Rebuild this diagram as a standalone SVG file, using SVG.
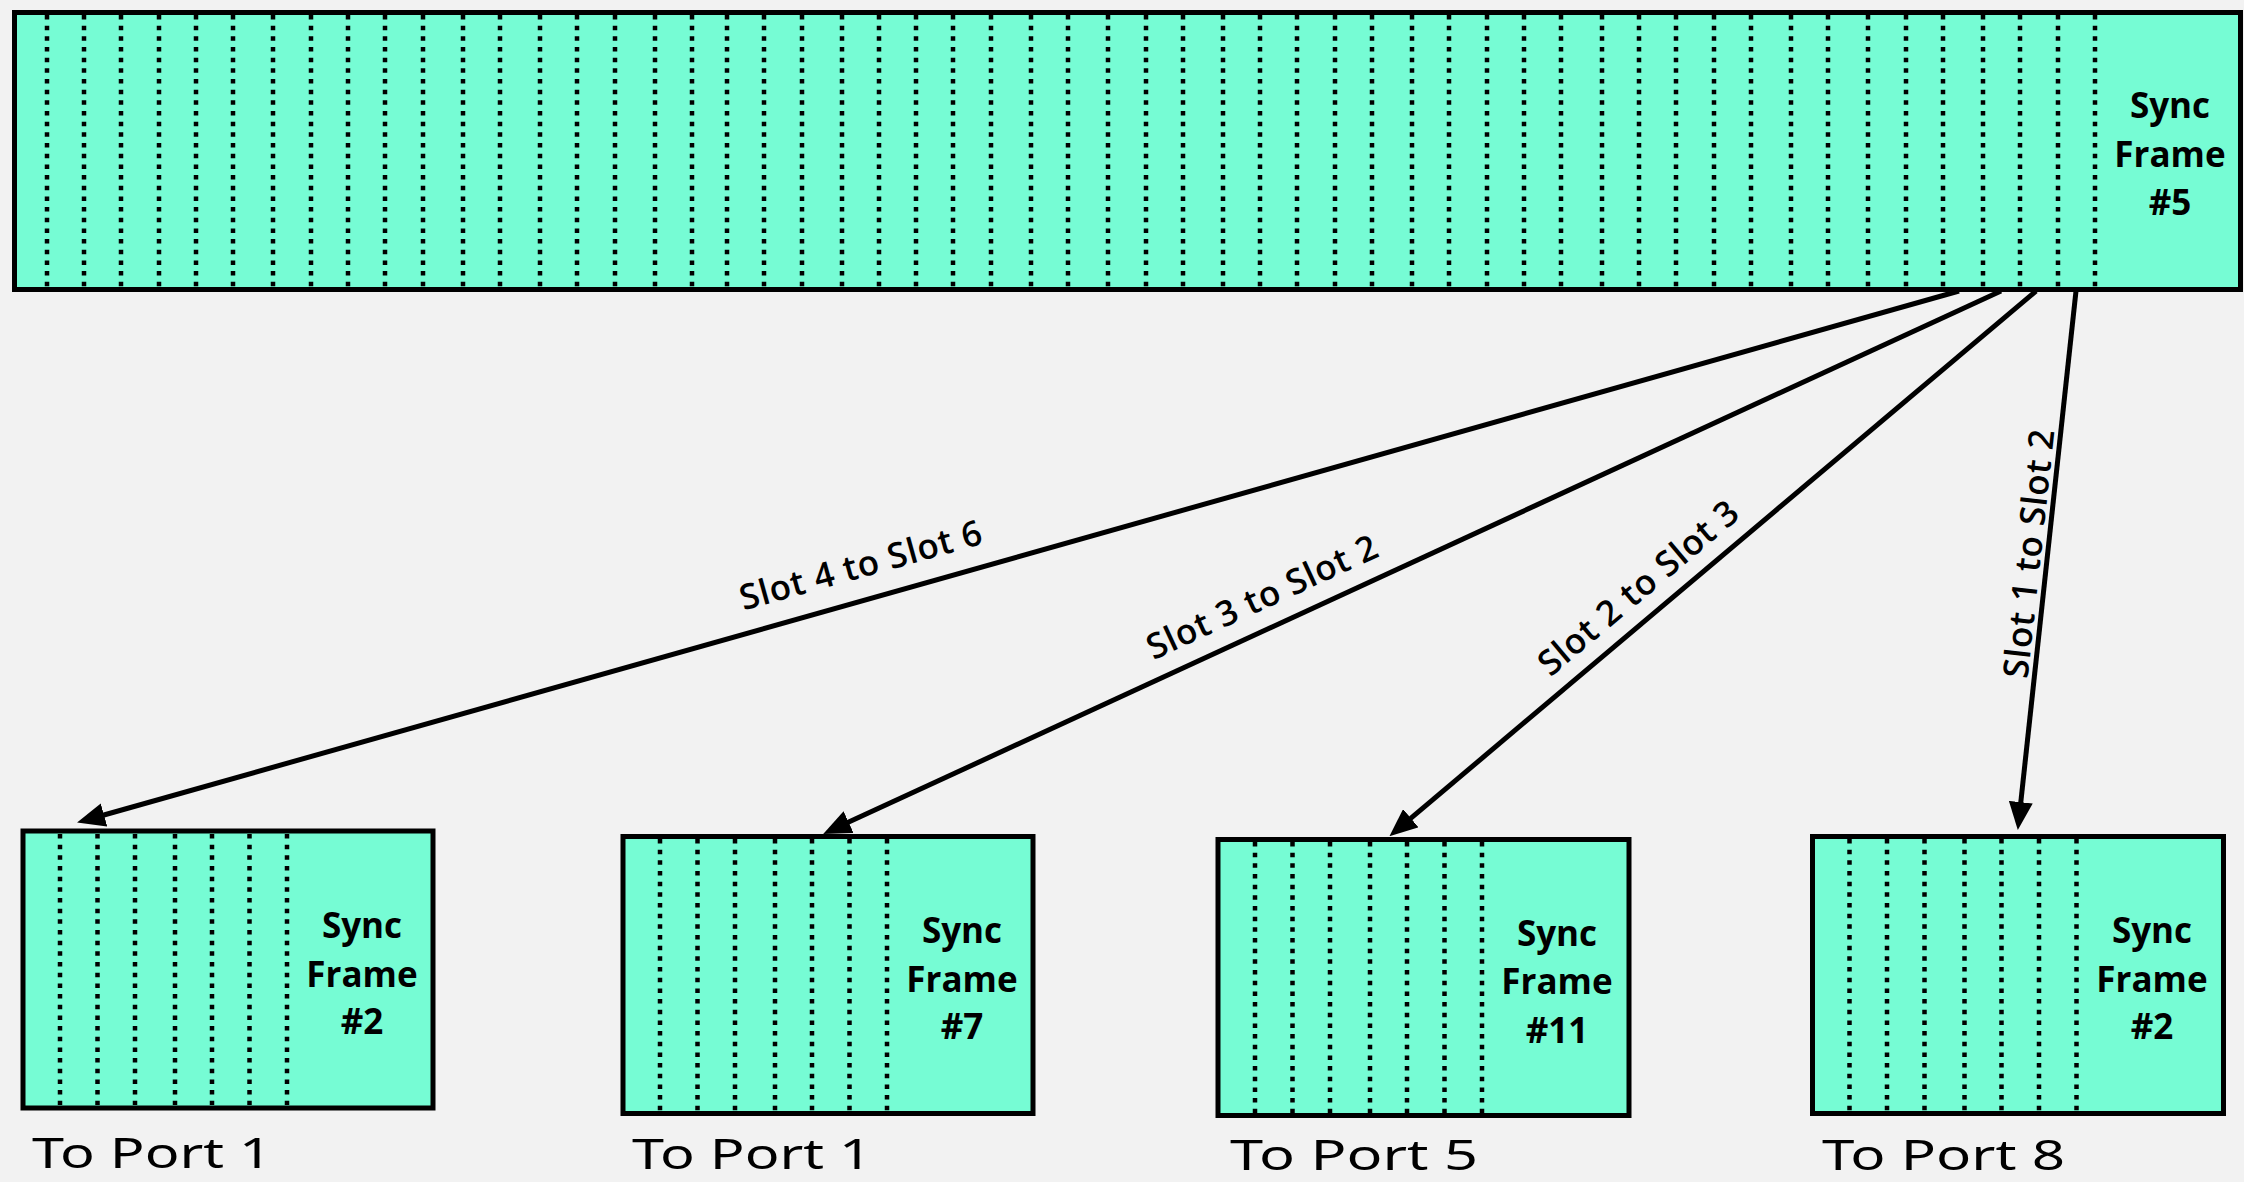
<svg xmlns="http://www.w3.org/2000/svg" width="2244" height="1182" viewBox="0 0 2244 1182">
<defs>
<style>
.box{fill:#76fcd4;stroke:#000;stroke-width:5}
.dots{fill:none;stroke:#000;stroke-width:4.5;stroke-dasharray:4.5 6.17}
.sync{font-family:"Open Sans","Noto Sans","Liberation Sans",sans-serif;font-weight:700;font-size:35px;fill:#000;text-anchor:middle}
.conn{fill:none;stroke:#000;stroke-width:5}
.lbl{font-family:"Open Sans","Noto Sans","Liberation Sans",sans-serif;font-weight:600;font-size:35px;fill:#000;text-anchor:middle}
.port{font-family:"Noto Sans","Liberation Sans",sans-serif;font-weight:400;font-size:42px;fill:#000}
</style>
<marker id="arrow" viewBox="0 0 28 24" markerWidth="28" markerHeight="24" refX="13" refY="12" orient="auto" markerUnits="userSpaceOnUse">
<path d="M0,0 L28,12 L0,24 z" fill="#000"/>
</marker>
</defs>
<rect x="0" y="0" width="2244" height="1182" fill="#f2f2f2"/>

<g id="frame-top">
<rect class="box" x="14.5" y="12.5" width="2226" height="277"/>
<path class="dots" d="M47 15V287M84 15V287M121 15V287M159 15V287M196 15V287M233 15V287M273 15V287M311 15V287M348 15V287M385 15V287M423 15V287M463 15V287M500 15V287M540 15V287M577 15V287M615 15V287M655 15V287M692 15V287M727 15V287M764 15V287M802 15V287M842 15V287M879 15V287M916 15V287M953 15V287M991 15V287M1031 15V287M1068 15V287M1108 15V287M1146 15V287M1183 15V287M1223 15V287M1260 15V287M1297 15V287M1335 15V287M1372 15V287M1412 15V287M1449 15V287M1487 15V287M1524 15V287M1561 15V287M1602 15V287M1639 15V287M1676 15V287M1714 15V287M1751 15V287M1791 15V287M1828 15V287M1868 15V287M1906 15V287M1943 15V287M1983 15V287M2020 15V287M2058 15V287M2095 15V287"/>
<text class="sync" x="2170" y="118">Sync</text>
<text class="sync" x="2170" y="167">Frame</text>
<text class="sync" x="2170" y="215">#5</text>
</g>

<g id="frame-port1-a">
<rect class="box" x="23" y="831" width="410" height="277"/>
<path class="dots" d="M60 834V1105M97.5 834V1105M135 834V1105M175 834V1105M212 834V1105M249.5 834V1105M287 834V1105"/>
<text class="sync" x="362" y="938">Sync</text>
<text class="sync" x="362" y="987">Frame</text>
<text class="sync" x="362" y="1034">#2</text>
<text class="port" x="32" y="1168" textLength="240" lengthAdjust="spacingAndGlyphs">To Port 1</text>
</g>

<g id="frame-port1-b">
<rect class="box" x="623" y="836.5" width="410" height="277"/>
<path class="dots" d="M660 839V1111M697.5 839V1111M735 839V1111M775 839V1111M812 839V1111M849.5 839V1111M887 839V1111"/>
<text class="sync" x="962" y="943">Sync</text>
<text class="sync" x="962" y="992">Frame</text>
<text class="sync" x="962" y="1039">#7</text>
<text class="port" x="632" y="1169" textLength="240" lengthAdjust="spacingAndGlyphs">To Port 1</text>
</g>

<g id="frame-port5">
<rect class="box" x="1218" y="839.5" width="411" height="276"/>
<path class="dots" d="M1255 842V1113M1292.5 842V1113M1330 842V1113M1370 842V1113M1407 842V1113M1444.5 842V1113M1482 842V1113"/>
<text class="sync" x="1557" y="946">Sync</text>
<text class="sync" x="1557" y="994">Frame</text>
<text class="sync" x="1557" y="1043">#11</text>
<text class="port" x="1230" y="1170" textLength="248" lengthAdjust="spacingAndGlyphs">To Port 5</text>
</g>

<g id="frame-port8">
<rect class="box" x="1812.5" y="836.5" width="411" height="277"/>
<path class="dots" d="M1849.5 839V1111M1887 839V1111M1924.5 839V1111M1964.5 839V1111M2001.5 839V1111M2039 839V1111M2076.5 839V1111"/>
<text class="sync" x="2152" y="943">Sync</text>
<text class="sync" x="2152" y="992">Frame</text>
<text class="sync" x="2152" y="1039">#2</text>
<text class="port" x="1822" y="1170" textLength="243" lengthAdjust="spacingAndGlyphs">To Port 8</text>
</g>

<g id="connectors">
<line class="conn" x1="1959" y1="291" x2="91.5" y2="818.5" marker-end="url(#arrow)"/>
<text class="lbl" transform="translate(864,577) rotate(-15.6)" textLength="250" lengthAdjust="spacing">Slot 4 to Slot 6</text>
<line class="conn" x1="2001" y1="291" x2="836.8" y2="827.6" marker-end="url(#arrow)"/>
<text class="lbl" transform="translate(1267,608) rotate(-24.7)" textLength="250" lengthAdjust="spacing">Slot 3 to Slot 2</text>
<line class="conn" x1="2036" y1="291" x2="1400.9" y2="826.6" marker-end="url(#arrow)"/>
<text class="lbl" transform="translate(1646,597) rotate(-40.1)" textLength="250" lengthAdjust="spacing">Slot 2 to Slot 3</text>
<line class="conn" x1="2076" y1="291" x2="2019.4" y2="815.1" marker-end="url(#arrow)"/>
<text class="lbl" transform="translate(2041,555) rotate(-83.8)" textLength="250" lengthAdjust="spacing">Slot 1 to Slot 2</text>
</g>
</svg>
